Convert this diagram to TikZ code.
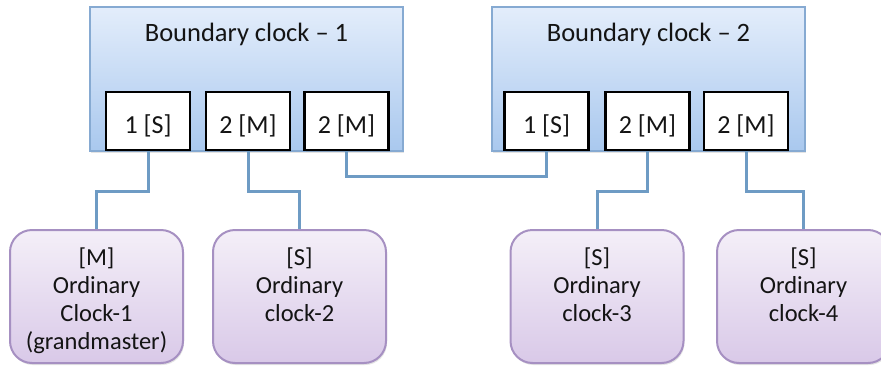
\documentclass[tikz,border=0pt]{standalone}
\usepackage{fontspec}
\setmainfont{Carlito}
\usetikzlibrary{shadows}

\definecolor{bcTop}{HTML}{E3EDFB}
\definecolor{bcBot}{HTML}{A9C8EE}
\definecolor{bcLine}{HTML}{86AAD2}
\definecolor{ocTop}{HTML}{F4EFF8}
\definecolor{ocBot}{HTML}{D9C9E8}
\definecolor{ocLine}{HTML}{A690C2}
\definecolor{linkC}{HTML}{6E9BC4}
\definecolor{txt}{HTML}{141414}

\tikzset{
  softshadow/.style={drop shadow={opacity=0.22, shadow xshift=1pt, shadow yshift=-2pt}},
  bcbox/.style={draw=bcLine, line width=2pt, top color=bcTop, bottom color=bcBot,
    minimum width=313pt, minimum height=144pt, inner sep=0pt, softshadow},
  portbox/.style={draw=black, line width=2.4pt, fill=white,
    minimum width=84pt, minimum height=58pt, inner sep=0pt, softshadow},
  portlbl/.style={label={[yshift=-5pt, font=\fontsize{26}{30}\selectfont, text=txt]center:#1}},
  ocbox/.style={draw=ocLine, line width=2pt, rounded corners=22pt, top color=ocTop, bottom color=ocBot,
    minimum width=173pt, minimum height=133pt, inner sep=0pt, softshadow},
  octext/.style={anchor=north, inner sep=0pt, align=center, text=txt,
    font=\fontsize{24.5}{28}\selectfont},
  titletext/.style={inner sep=0pt, text=txt, font=\fontsize{26.5}{30}\selectfont},
  link/.style={draw=linkC, line width=3pt}
}

\begin{document}
\begin{tikzpicture}[x=1pt, y=-1pt]
\useasboundingbox (0,0) rectangle (881,367);

% boundary clocks
\node[bcbox] (bc1) at (246.5,79) {};
\node[bcbox] (bc2) at (648.5,79) {};
\node[titletext] (bc1t) at (246.5,34) {Boundary clock – 1};
\node[titletext] (bc2t) at (648.5,34) {Boundary clock – 2};

% ports of boundary clock 1
\node[portbox, portlbl={1 [S]}] (p11) at (148,121) {};
\node[portbox, portlbl={2 [M]}] (p12) at (248,121) {};
\node[portbox, portlbl={2 [M]}] (p13) at (346.5,121) {};

% ports of boundary clock 2
\node[portbox, portlbl={1 [S]}] (p21) at (546.5,121) {};
\node[portbox, portlbl={2 [M]}] (p22) at (647.5,121) {};
\node[portbox, portlbl={2 [M]}] (p23) at (746,121) {};

% ordinary clocks
\node[ocbox] (oc1) at (96.5,296.5) {};
\node[ocbox] (oc2) at (299.5,296.5) {};
\node[ocbox] (oc3) at (597,296.5) {};
\node[ocbox] (oc4) at (803.5,296.5) {};

\node[octext] (oc1t) at (96.5,248) {[M]\\Ordinary\\Clock-1\\(grandmaster)};
\node[octext] (oc2t) at (299.5,248) {[S]\\Ordinary\\clock-2};
\node[octext] (oc3t) at (597,248) {[S]\\Ordinary\\clock-3};
\node[octext] (oc4t) at (803.5,248) {[S]\\Ordinary\\clock-4};

% links
\draw[link] (p11.south) -- ++(0,40) -| (oc1.north);
\draw[link] (p12.south) -- ++(0,40) -| (oc2.north);
\draw[link] (p13.south) -- ++(0,25) -| (p21.south);
\draw[link] (p22.south) -- ++(0,40) -| (oc3.north);
\draw[link] (p23.south) -- ++(0,40) -| (oc4.north);
\end{tikzpicture}
\end{document}
